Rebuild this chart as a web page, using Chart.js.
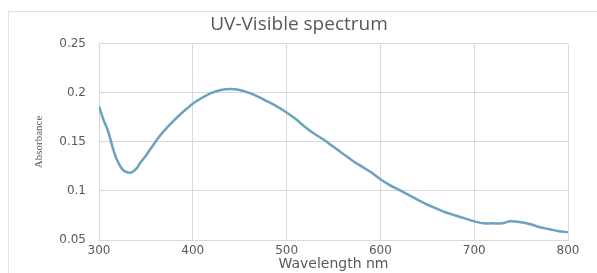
<!DOCTYPE html>
<html>
<head>
<meta charset="utf-8">
<script src="https://cdn.jsdelivr.net/npm/chart.js@4.4.0/dist/chart.umd.min.js"></script>
<style>
  html, body { margin: 0; padding: 0; background: #fff; }
  #wrap { position: relative; width: 597px; height: 273px; }
  #frame { position: absolute; left: 8px; top: 11px; width: 590px; height: 270px;
           border-top: 1px solid #e2e2e2; border-left: 1px solid #e2e2e2; }
  canvas { position: absolute; left: 0; top: 0; }
</style>
</head>
<body>
<div id="wrap">
  <div id="frame"></div>
  <canvas id="spectrum" width="597" height="273"></canvas>
</div>
<script>
const wavelengths = [300, 305, 310, 315, 320, 325, 330, 335, 340, 345, 350, 360, 370, 380, 390,
  400, 410, 420, 430, 440, 450, 460, 470, 480, 490, 500, 510, 520, 530, 540, 550, 560, 570,
  580, 590, 600, 610, 620, 630, 640, 650, 660, 670, 680, 690, 700, 710, 720, 730, 738, 750,
  760, 770, 780, 790, 800];
const absorbance = [0.186, 0.172, 0.160, 0.143, 0.130, 0.122, 0.119, 0.119, 0.123, 0.130, 0.136,
  0.150, 0.162, 0.172, 0.181, 0.189, 0.195, 0.200, 0.203, 0.204, 0.203, 0.200, 0.196, 0.191,
  0.186, 0.180, 0.173, 0.165, 0.158, 0.152, 0.145, 0.138, 0.131, 0.125, 0.119, 0.112, 0.106,
  0.101, 0.096, 0.091, 0.086, 0.082, 0.078, 0.075, 0.072, 0.069, 0.067, 0.067, 0.067, 0.069,
  0.068, 0.066, 0.063, 0.061, 0.059, 0.058];

const xTicks = [300, 400, 500, 600, 700, 800];
const yTicks = [0.05, 0.1, 0.15, 0.2, 0.25];

const gridColor = '#d9d9d9';
const textColor = '#595959';

const points = wavelengths.map((w, i) => ({ x: w, y: absorbance[i] }));

const ctx = document.getElementById('spectrum').getContext('2d');
const chart = new Chart(ctx, {
    type: 'line',
    data: {
        datasets: [{
            label: 'Absorbance',
            data: points,
            borderColor: '#6aa2c2',
            borderWidth: 2.5,
            pointRadius: 0,
            tension: 0.3,
            fill: false
        }]
    },
    options: {
        responsive: false,
        animation: false,
        layout: { padding: { left: 30, right: 29, top: 0, bottom: 0 } },
        plugins: {
            legend: { display: false },
            tooltip: { enabled: false },
            title: {
                display: true,
                text: 'UV-Visible spectrum',
                color: textColor,
                font: { family: 'Open Sans', size: 19, weight: 'normal' },
                padding: { top: 13, bottom: 8 }
            }
        },
        scales: {
            x: {
                type: 'linear',
                min: 300,
                max: 800,
                afterBuildTicks: axis => { axis.ticks = xTicks.map(v => ({ value: v })); },
                afterFit: axis => { axis.height = 33; },
                grid: { color: gridColor, drawTicks: false },
                border: { color: gridColor },
                ticks: {
                    color: textColor,
                    padding: 4,
                    font: { family: 'DejaVu Sans', size: 12 }
                },
                title: {
                    display: true,
                    text: 'Wavelength nm',
                    color: textColor,
                    padding: { top: 0, bottom: 0 },
                    font: { family: 'DejaVu Sans', size: 14 }
                }
            },
            y: {
                min: 0.05,
                max: 0.25,
                afterBuildTicks: axis => { axis.ticks = yTicks.map(v => ({ value: v })); },
                afterFit: axis => { axis.width = 69; },
                grid: { color: gridColor, drawTicks: false },
                border: { color: gridColor },
                ticks: {
                    color: textColor,
                    padding: 13,
                    font: { family: 'DejaVu Sans', size: 12 },
                    callback: v => String(+v.toFixed(2))
                },
                title: {
                    display: true,
                    text: 'Absorbance',
                    color: textColor,
                    padding: { top: 3, bottom: 0 },
                    font: { family: 'Liberation Serif', size: 11 }
                }
            }
        }
    }
});
</script>
</body>
</html>
